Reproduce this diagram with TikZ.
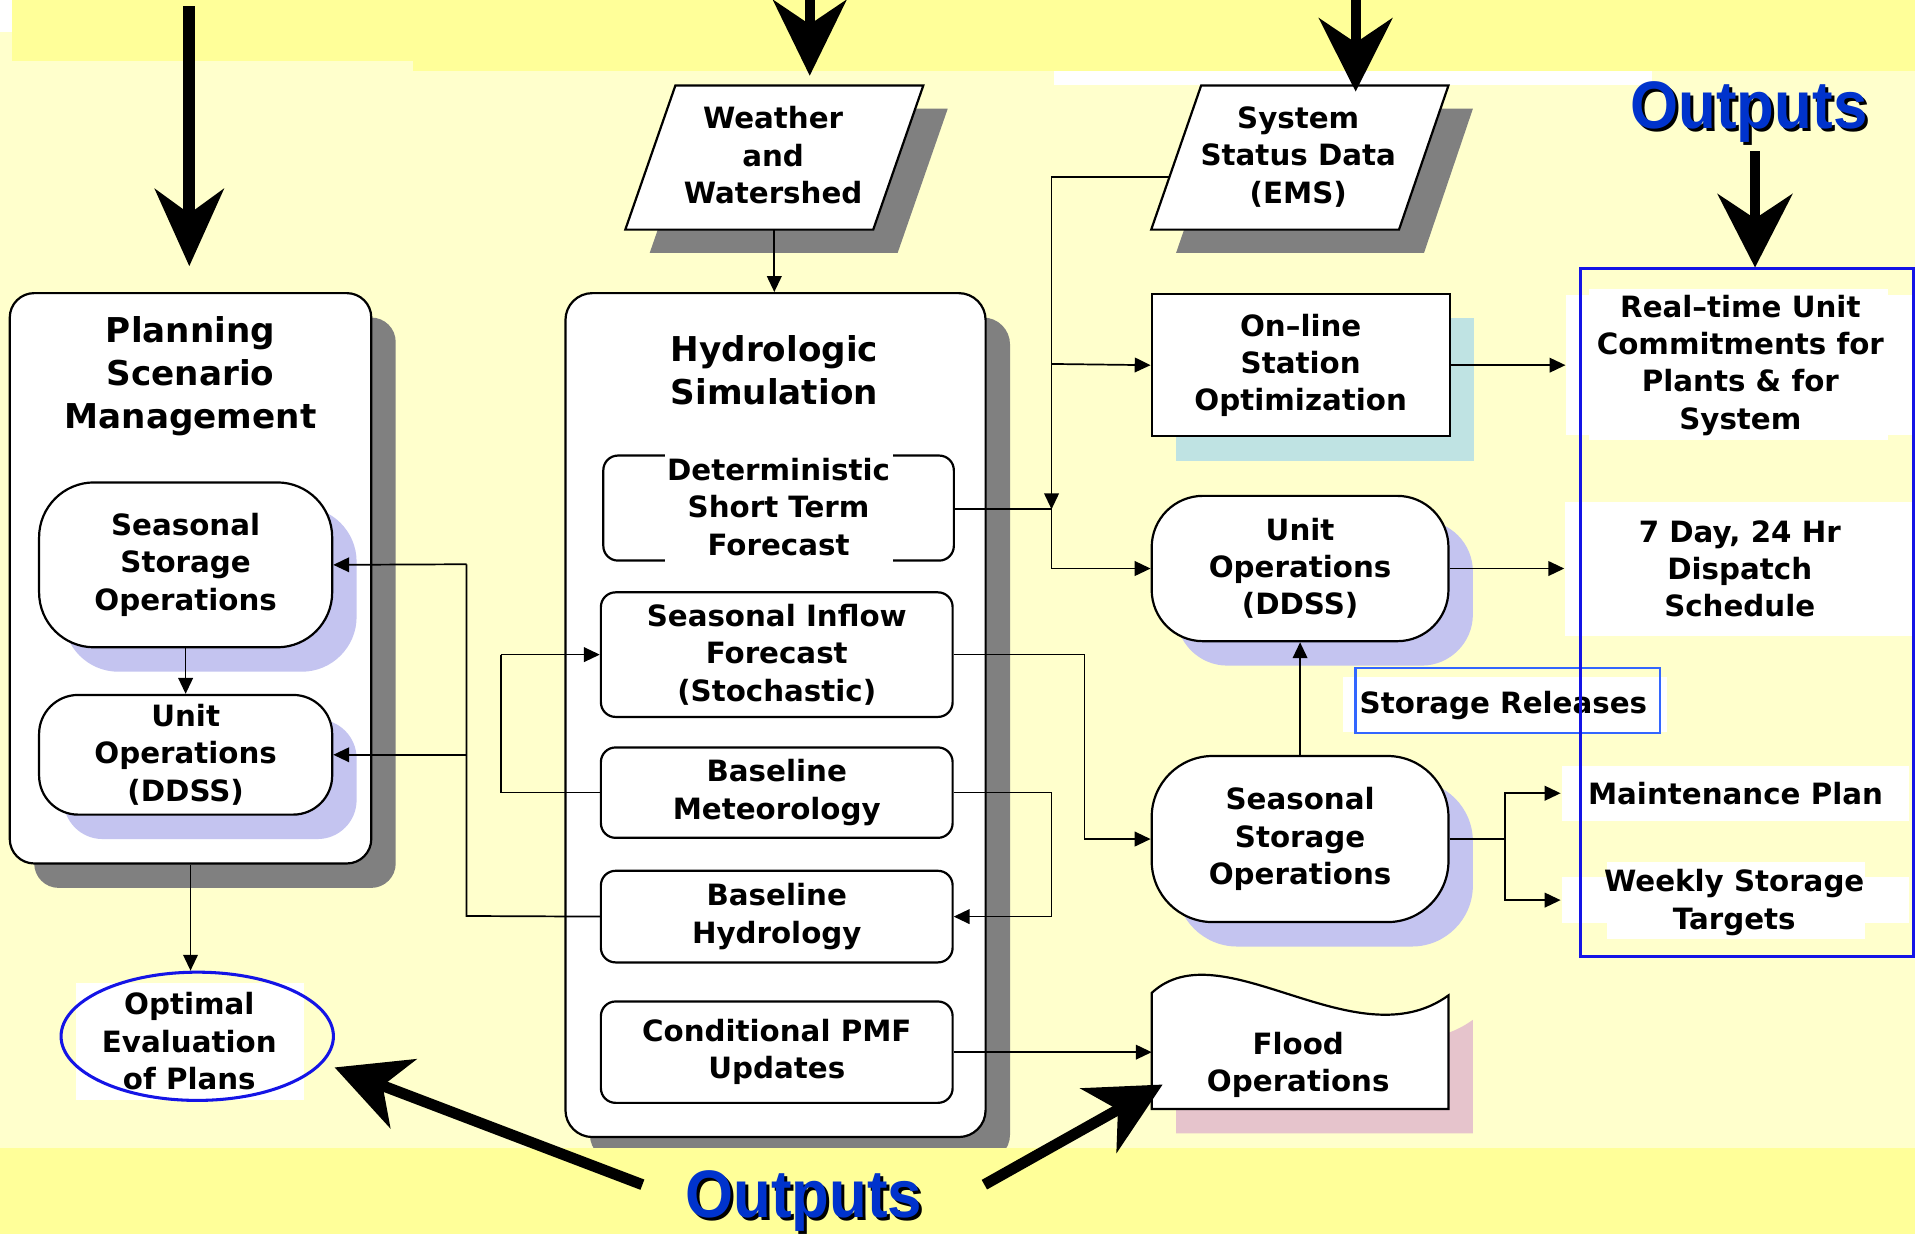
\documentclass[tikz,border=0pt]{standalone}
\usepackage{fontspec}
\setmainfont{DejaVu Sans}
\newfontfamily\outfont{Liberation Sans}
\usetikzlibrary{arrows.meta,shadows,shapes.geometric}
\definecolor{bgA}{HTML}{FFFFCC}
\definecolor{bgB}{HTML}{FFFF99}
\definecolor{shgray}{HTML}{808080}
\definecolor{shlav}{HTML}{C4C4F0}
\definecolor{shcyan}{HTML}{BFE3E3}
\definecolor{shpink}{HTML}{E6C4CC}
\definecolor{outblue}{HTML}{0033CC}
\definecolor{rectblue}{HTML}{1414E6}
\definecolor{srblue}{HTML}{3366FF}
\newcommand\mytxt{\fontsize{24}{30.5}\selectfont\bfseries}
\newcommand\mytitle{\fontsize{28}{35}\selectfont\bfseries}
\newcommand\myout{\fontsize{55}{60}\selectfont\outfont\bfseries}
\tikzset{
  conn/.style={line width=1.4pt},
  arr/.style={conn,-{Triangle[length=13pt,width=12pt]}},
  bigarr/.style={line width=9pt,-{Stealth[length=60pt,width=60pt,inset=18pt]}},
  box/.style={draw,line width=1.8pt,fill=white,align=center,font=\mytxt,inner sep=0pt},
  shad/.style={drop shadow={shadow xshift=20pt,shadow yshift=-20pt,fill=#1,opacity=1}},
  lbl/.style={fill=white,align=center,font=\mytxt,inner sep=0pt},
  txt/.style={align=center,font=\mytxt,inner sep=0pt},
  ttl/.style={align=center,font=\mytitle,inner sep=0pt},
  outtxt/.style={font=\myout,text=outblue,inner sep=0pt,xscale=0.92},
  outshadow/.style={font=\myout,text=black,inner sep=0pt,xscale=0.92},
}
\begin{document}
\begin{tikzpicture}[x=1pt,y=-1pt]
\useasboundingbox (0,0) rectangle (1568,1010);
% backgrounds
\fill[bgA] (0,0) rectangle (1568,1010);
\fill[bgB] (10,0) rectangle (1568,50);
\fill[bgB] (338,50) rectangle (1568,58);
\fill[white] (0,0) rectangle (10,26);
\fill[white] (863,58) rectangle (1353,70);

% ---------------- left column
\node[box,shad=shgray,rounded corners=20,minimum width=296,minimum height=467] (plan) at (156,473.5) {};
\node[ttl] (plantitle) at (156,308) {Planning\\Scenario\\Management};
\node[box,shad=shlav,rounded corners=45,minimum width=240,minimum height=135] (lss) at (152,462.5) {Seasonal\\Storage\\Operations};
\node[box,shad=shlav,rounded corners=32,minimum width=240,minimum height=98] (lunit) at (152,618) {Unit\\Operations\\(DDSS)};
\draw[arr] (lss.south) -- (lunit.north);

\fill[white] (62,805) rectangle (249,901);
\node[draw=rectblue,line width=2.5pt,ellipse,minimum width=223,minimum height=105,inner sep=0pt] (opt) at (161.5,848.5) {};
\node[txt] (opttext) at (155,852.5) {Optimal\\Evaluation\\of Plans};
\draw[arr] (plan.south) -- (plan.south |- opt.north);

% ---------------- middle column
\fill[shgray] (573,89) -- (776,89) -- (735,207) -- (532,207) -- cycle;
\filldraw[fill=white,line width=1.8pt] (553,70) -- (756,70) -- (715,188) -- (512,188) -- cycle;
\node[txt] (weather) at (633,127) {Weather\\and\\Watershed};
\coordinate (wb) at (634,188);

\node[box,shad=shgray,rounded corners=22,minimum width=344,minimum height=691] (hydro) at (635,585.5) {};
\node[ttl] (hydtitle) at (634,303) {Hydrologic\\Simulation};
\draw[arr] (wb) -- (wb |- hydro.north);

\node[draw,line width=1.8pt,rounded corners=12,minimum width=287,minimum height=86,inner sep=0pt] (det) at (637.5,416) {};
\node[lbl,inner xsep=2pt,inner ysep=6pt] (dettext) at (637.5,415) {Deterministic\\Short Term\\Forecast};
\node[box,rounded corners=12,minimum width=288,minimum height=102] (sif) at (636,536) {Seasonal Inflow\\Forecast\\(Stochastic)};
\node[box,rounded corners=12,minimum width=288,minimum height=74] (bmet) at (636,649) {Baseline\\Meteorology};
\node[box,rounded corners=12,minimum width=288,minimum height=75] (bhyd) at (636,750.5) {Baseline\\Hydrology};
\node[box,rounded corners=12,minimum width=288,minimum height=83] (cpmf) at (636,861.5) {Conditional PMF\\Updates};

% bottom band (covers the hydro shadow bottom)
\fill[bgB] (0,940) rectangle (1568,1010);

% ---------------- right column
\fill[shgray] (1003.5,89) -- (1206,89) -- (1166,207) -- (963,207) -- cycle;
\filldraw[fill=white,line width=1.8pt] (983.5,70) -- (1186,70) -- (1145.5,188) -- (942.6,188) -- cycle;
\node[txt] (system) at (1063,128.5) {System\\Status Data\\(EMS)};
\coordinate (sysl) at (957.5,145);

\node[box,shad=shcyan,minimum width=244,minimum height=116.5] (onl) at (1065,299) {On–line\\Station\\Optimization};
\node[box,shad=shlav,rounded corners=42,minimum width=243,minimum height=119] (runit) at (1064.5,465.5) {Unit\\Operations\\(DDSS)};
\node[box,shad=shlav,rounded corners=50,minimum width=243,minimum height=136] (rss) at (1064.5,687) {Seasonal\\Storage\\Operations};

% flood operations
\fill[shpink,shift={(20,20)}] (943,908) -- (943,813) .. controls (1000,760) and (1110,870) .. (1186,815) -- (1186,908) -- cycle;
\filldraw[fill=white,line width=1.8pt] (943,908) -- (943,813) .. controls (1000,760) and (1110,870) .. (1186,815) -- (1186,908) -- cycle;
\node[txt] (flood) at (1063,872) {Flood\\Operations};
\coordinate (floodw) at (943,861);

% output labels
\fill[white] (1301,237) rectangle (1546,360);
\node[lbl,minimum width=286,minimum height=110] (rt) at (1425,299) {Real–time Unit\\Commitments for\\Plants \& for\\System};
\node[lbl,minimum width=287,minimum height=109.5] (ds) at (1424.5,465.75) {7 Day, 24 Hr\\Dispatch\\Schedule};
\node[lbl,minimum width=284,minimum height=45] (mp) at (1421,649.5) {Maintenance Plan};
\fill[white] (1316,705.6) rectangle (1527,769);
\node[lbl,minimum width=284,minimum height=38] (ws) at (1421,737) {};
\node[txt] (wstext) at (1420,739) {Weekly Storage\\Targets};

\fill[white] (1100,554) rectangle (1365,599);
\node[draw=srblue,line width=2pt,minimum width=249,minimum height=53,inner sep=0pt] (srbox) at (1234.5,573.5) {};
\node[txt] (sr) at (1231,578) {Storage Releases};

\node[draw=rectblue,line width=2.5pt,minimum width=273,minimum height=563,inner sep=0pt] (outbox) at (1430.5,501.5) {};

% ---------------- connectors
% left side feeds
\coordinate (lx) at (382,750);
\draw[conn] (bhyd.west) -- (lx) -- (382,462);
\draw[arr] (382,462) -- (lss.east);
\draw[arr] (382,618) -- (lunit.east);
% baseline met -> seasonal inflow
\draw[conn] (bmet.west) -- (410,649) -- (410,536);
\draw[arr] (410,536) -- (sif.west);
% baseline met -> baseline hydrology
\draw[arr] (bmet.east) -- (861,649) |- (bhyd.east);
% seasonal inflow -> seasonal storage
\draw[arr] (sif.east) -- (888,536) |- (rss.west);
% conditional PMF -> flood
\draw[arr] (cpmf.east) -- (cpmf.east -| floodw);
% system status feeds
\coordinate (jn) at (861,417);
\draw[arr] (sysl) -- (861,145) -- (jn);
\draw[arr] (861,298) -- (onl.west);
\draw[conn] (det.east |- jn) -- (jn);
\draw[arr] (jn) |- (runit.west);
% outputs of right column
\draw[arr] (onl.east) -- (onl.east -| rt.west);
\draw[arr] (runit.east) -- (runit.east -| ds.west);
\draw[arr] (rss.north) -- (runit.south);
\coordinate (fork) at (1232,687);
\draw[conn] (rss.east) -- (fork);
\draw[arr] (fork) |- ([xshift=-1pt]mp.west);
\draw[arr] (fork) |- ([xshift=-1pt]ws.west);

% ---------------- big arrows and Outputs
\coordinate (a1s) at (155,5);
\coordinate (a1e) at (155,218);
\coordinate (a2s) at (663,0);
\coordinate (a2e) at (663,62);
\coordinate (a3s) at (1110,0);
\coordinate (a3e) at (1110,75);
\coordinate (a4s) at (1437,124);
\coordinate (a4e) at (1437,219);
\draw[line width=10pt,-{Stealth[length=63pt,width=56pt,inset=20pt]}] (a1s) -- (a1e);
\draw[line width=8pt,-{Stealth[length=62pt,width=60pt,inset=20pt]}] (a2s) -- (a2e);
\draw[line width=8pt,-{Stealth[length=60pt,width=60pt,inset=20pt]}] (a3s) -- (a3e);
\draw[line width=8pt,-{Stealth[length=60pt,width=61pt,inset=20pt]}] (a4s) -- (a4e);

\node[outshadow] (out1s) at (1434.5,94.5) {Outputs};
\node[outtxt] (out1) at (1432,92) {Outputs};
\node[outshadow] (out2s) at (660.5,985.5) {Outputs};
\node[outtxt] (out2) at (658,983) {Outputs};

\coordinate (b1s) at (526,970);
\coordinate (b1e) at (274,874);
\coordinate (b2s) at (806,970);
\coordinate (b2e) at (952,888);
\draw[bigarr] (b1s) -- (b1e);
\draw[bigarr] (b2s) -- (b2e);
\end{tikzpicture}
\end{document}
